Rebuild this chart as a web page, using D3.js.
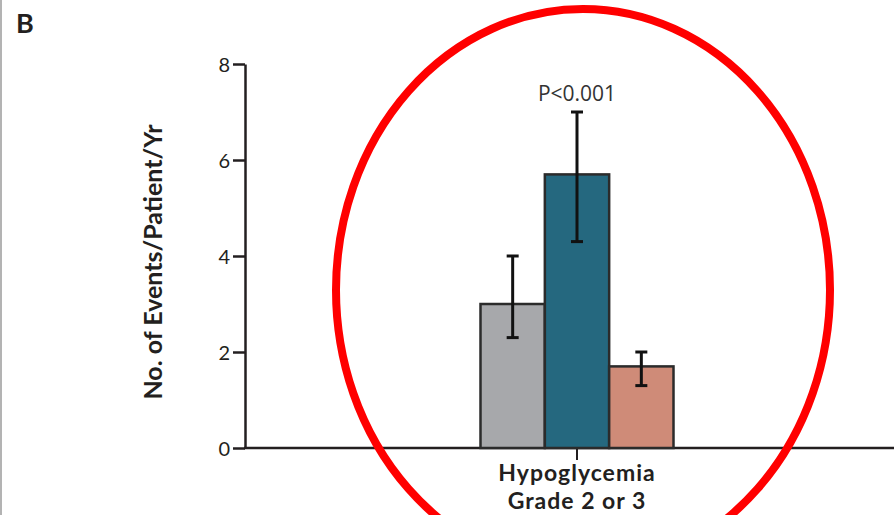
<!DOCTYPE html>
<head>
  <meta charset="utf-8">
  <title>Hypoglycemia events</title>
  <script src="https://d3js.org/d3.v7.min.js"></script>
  <style>
    body { margin: 0; background: #fff; }
    svg { display: block; background: #fff; }
    .panel-letter { font-family: Lato, sans-serif; font-weight: 700; font-size: 27px; fill: #231f20; }
    .axis text { font-family: Lato, sans-serif; font-size: 20px; fill: #231f20; }
    .axis path, .axis line { stroke: #231f20; stroke-width: 2.5px; }
    .y-title { font-family: Lato, sans-serif; font-weight: 700; font-size: 25px; fill: #231f20; }
    .cat-label { font-family: Lato, sans-serif; font-weight: 700; font-size: 23px; letter-spacing: 1px; fill: #231f20; }
    .p-label { font-family: "Open Sans", sans-serif; font-size: 21px; fill: #333; }
    .bar { stroke: #2b2b2b; stroke-width: 2.5px; }
    .err { stroke: #111; stroke-width: 3px; }
  </style>
</head>

<body>
  <script>
    var width = 894, height = 515;

    // data
    var categories = ["Hypoglycemia Grade 2 or 3"];
    var categoryLines = [["Hypoglycemia", "Grade 2 or 3"]];
    var series = ["group1", "group2", "group3"];
    var seriesColours = ["#a7a8ab", "#25687f", "#cf8b78"];
    var rates = [3.0, 5.7, 1.7];
    var lower = [2.3, 4.3, 1.3];
    var upper = [4.0, 7.0, 2.0];
    var yTicks = [0, 2, 4, 6, 8];
    var pText = "P<0.001";

    var margin = {top: 64, left: 245, bottom: 67};

    var svg = d3.select("body").append("svg")
      .attr("width", width)
      .attr("height", height);

    // thin page edge on the left
    svg.append("line")
      .attr("x1", 1).attr("x2", 1)
      .attr("y1", 0).attr("y2", height)
      .attr("stroke", "#b3b3b3")
      .attr("stroke-width", 2);

    svg.append("text")
      .attr("class", "panel-letter")
      .attr("x", 16)
      .attr("y", 33)
      .text("B");

    var y = d3.scaleLinear()
      .domain([0, 8])
      .range([height - margin.bottom, margin.top]);

    var x0 = d3.scaleBand()
      .domain(categories)
      .range([260, 894]);

    var x1 = d3.scaleBand()
      .domain(series)
      .range([0, 193]);

    var y0 = y(0);

    // y axis
    var yAxis = svg.append("g")
      .attr("class", "axis")
      .attr("transform", "translate(" + margin.left + ",0)")
      .call(d3.axisLeft(y).tickValues(yTicks).tickSize(12).tickSizeOuter(0).tickPadding(3));
    yAxis.selectAll(".tick text").attr("dy", "0.36em");

    // baseline
    svg.append("line")
      .attr("x1", margin.left - 1).attr("x2", width)
      .attr("y1", y0).attr("y2", y0)
      .attr("stroke", "#231f20")
      .attr("stroke-width", 2.5);

    // category tick
    var xAxis = svg.append("g")
      .attr("class", "axis")
      .attr("transform", "translate(0," + y0 + ")")
      .call(d3.axisBottom(x0).tickSize(12).tickFormat(""));
    xAxis.select(".domain").remove();
    xAxis.selectAll(".tick line").style("stroke-width", "2px");

    var group = svg.append("g")
      .selectAll("g")
      .data(categories)
      .enter().append("g")
        .attr("transform", d => "translate(" + (x0(d) + x0.bandwidth() / 2 - 96.5) + ",0)");

    var rows = series.map((s, i) => ({key: s, value: rates[i], lo: lower[i], hi: upper[i], colour: seriesColours[i]}));

    group.selectAll("rect")
      .data(rows)
      .enter().append("rect")
        .attr("class", "bar")
        .attr("x", d => x1(d.key))
        .attr("y", d => y(d.value))
        .attr("width", x1.bandwidth())
        .attr("height", d => y0 - y(d.value))
        .attr("fill", d => d.colour);

    var err = group.selectAll("g.err-g")
      .data(rows)
      .enter().append("g")
        .attr("class", "err-g")
        .attr("transform", d => "translate(" + (x1(d.key) + x1.bandwidth() / 2) + ",0)");
    err.append("line")
      .attr("class", "err")
      .attr("y1", d => y(d.lo)).attr("y2", d => y(d.hi));
    err.append("line")
      .attr("class", "err")
      .attr("x1", -6).attr("x2", 6)
      .attr("y1", d => y(d.hi)).attr("y2", d => y(d.hi));
    err.append("line")
      .attr("class", "err")
      .attr("x1", -6).attr("x2", 6)
      .attr("y1", d => y(d.lo)).attr("y2", d => y(d.lo));

    // p-value above the tallest bar
    group.append("text")
      .attr("class", "p-label")
      .attr("x", x1(series[1]) + x1.bandwidth() / 2)
      .attr("y", y(d3.max(upper)) - 11)
      .attr("text-anchor", "middle")
      .text(pText);

    // category label, two lines
    categoryLines[0].forEach((t, i) => {
      svg.append("text")
        .attr("class", "cat-label")
        .attr("text-anchor", "middle")
        .attr("x", x0(categories[0]) + x0.bandwidth() / 2)
        .attr("y", 481 + i * 28)
        .text(t);
    });

    // y title
    svg.append("text")
      .attr("class", "y-title")
      .attr("transform", "translate(162," + 262 + ") rotate(-90)")
      .attr("text-anchor", "middle")
      .text("No. of Events/Patient/Yr");

    // red ellipse annotation
    svg.append("ellipse")
      .attr("cx", 583)
      .attr("cy", 290)
      .attr("rx", 247)
      .attr("ry", 281)
      .attr("fill", "none")
      .attr("stroke", "#ff0000")
      .attr("stroke-width", 8);
  </script>
</body>
